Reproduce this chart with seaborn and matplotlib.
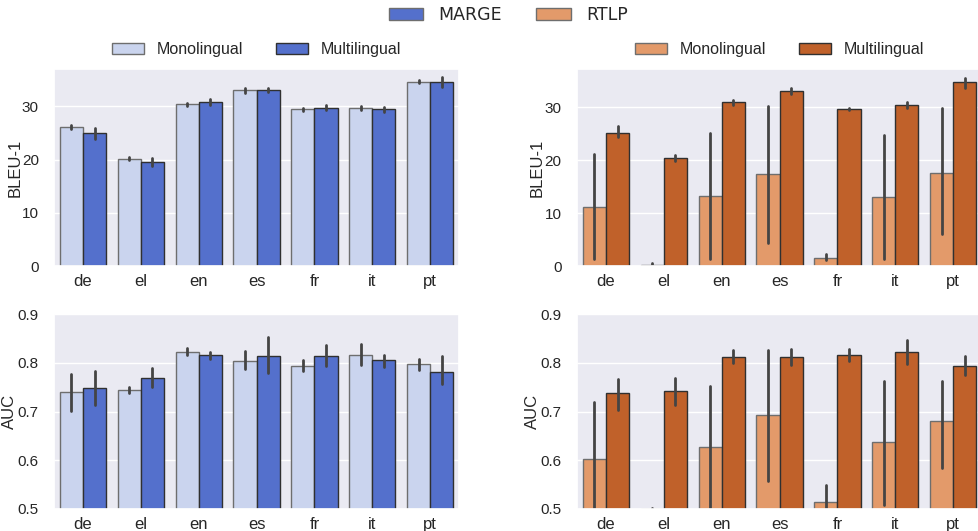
import matplotlib

matplotlib.use("Agg")

import matplotlib.pyplot as plt
import numpy as np
import pandas as pd
import seaborn as sns
from matplotlib.patches import Patch

LANGS = ["de", "el", "en", "es", "fr", "it", "pt"]
SETTINGS = ["Monolingual", "Multilingual"]

# BLEU-1, point value and (low, high) of the interval
MARGE_BLEU_MONO = [26.1, 20.15, 30.4, 33.0, 29.4, 29.75, 34.6]
MARGE_BLEU_MONO_CI = [(25.8, 26.4), (19.85, 20.45), (30.1, 30.7), (32.5, 33.5), (29.1, 29.7), (29.35, 30.15), (34.3, 34.9)]
MARGE_BLEU_MULTI = [24.9, 19.5, 30.8, 33.0, 29.75, 29.45, 34.6]
MARGE_BLEU_MULTI_CI = [(23.9, 25.9), (18.7, 20.3), (30.3, 31.3), (32.6, 33.4), (29.25, 30.25), (28.95, 29.95), (33.7, 35.5)]

RTLP_BLEU_MONO = [11.2, 0.25, 13.2, 17.3, 1.6, 13.0, 17.5]
RTLP_BLEU_MONO_CI = [(1.3, 21.1), (0.0, 0.5), (1.3, 25.2), (4.3, 30.2), (1.1, 2.2), (1.3, 24.7), (6.1, 29.9)]
RTLP_BLEU_MULTI = [25.2, 20.4, 30.9, 33.0, 29.7, 30.4, 34.7]
RTLP_BLEU_MULTI_CI = [(24.3, 26.4), (19.9, 20.9), (30.5, 31.3), (32.4, 33.6), (29.5, 29.9), (29.9, 30.9), (33.6, 35.6)]

# AUC
MARGE_AUC_MONO = [0.740, 0.744, 0.823, 0.803, 0.793, 0.815, 0.797]
MARGE_AUC_MONO_CI = [(0.702, 0.776), (0.737, 0.751), (0.815, 0.830), (0.787, 0.824), (0.784, 0.805), (0.795, 0.839), (0.786, 0.808)]
MARGE_AUC_MULTI = [0.748, 0.769, 0.815, 0.814, 0.814, 0.805, 0.782]
MARGE_AUC_MULTI_CI = [(0.714, 0.784), (0.750, 0.790), (0.808, 0.823), (0.780, 0.852), (0.793, 0.837), (0.791, 0.816), (0.756, 0.813)]

RTLP_AUC_MONO = [0.602, 0.500, 0.627, 0.693, 0.515, 0.637, 0.681]
RTLP_AUC_MONO_CI = [(0.48, 0.720), (0.499, 0.502), (0.503, 0.752), (0.558, 0.827), (0.49, 0.550), (0.509, 0.763), (0.584, 0.763)]
RTLP_AUC_MULTI = [0.737, 0.743, 0.812, 0.812, 0.816, 0.822, 0.793]
RTLP_AUC_MULTI_CI = [(0.703, 0.767), (0.714, 0.769), (0.799, 0.826), (0.796, 0.828), (0.803, 0.829), (0.797, 0.846), (0.774, 0.814)]

MARGE_COLORS = ["#cad4ee", "#5470cc"]
RTLP_COLORS = ["#e39a6a", "#c0612a"]
EDGE_COLORS = ["#6e6e6e", "#303030"]


def long_frame(mono, mono_ci, multi, multi_ci):
    # three rows per bar: low, point, high -> median gives the point, min/max the interval
    rows = []
    for setting, vals, cis in ((SETTINGS[0], mono, mono_ci), (SETTINGS[1], multi, multi_ci)):
        for lang, v, (lo, hi) in zip(LANGS, vals, cis):
            for x in (lo, v, hi):
                rows.append({"lang": lang, "setting": setting, "value": x})
    return pd.DataFrame(rows)


def draw_panel(ax, frame, colors, ylabel, ylim, ticks, label_x, legend):
    sns.barplot(
        data=frame,
        x="lang",
        y="value",
        hue="setting",
        order=LANGS,
        hue_order=SETTINGS,
        palette=colors,
        estimator=np.median,
        errorbar=lambda v: (v.min(), v.max()),
        err_kws={"color": "#444444", "linewidth": 2.0},
        linewidth=1.0,
        saturation=1,
        ax=ax,
    )
    for container, edge in zip(ax.containers, EDGE_COLORS):
        for patch in container:
            patch.set_edgecolor(edge)
    ax.set_ylim(*ylim)
    ax.set_yticks(ticks)
    ax.set_xlabel("")
    ax.set_ylabel(ylabel, fontsize=12)
    # label_x is where the right side of the rotated label sits
    ax.yaxis.set_label_coords(label_x, 0.5)
    ax.tick_params(axis="x", labelsize=12, pad=0)
    ax.tick_params(axis="y", labelsize=11, pad=5)
    if legend:
        leg = ax.legend(
            loc="center",
            bbox_to_anchor=(0.5, 1.10),
            ncol=2,
            frameon=False,
            fontsize=11.5,
            handlelength=2.0,
            handletextpad=0.8,
            columnspacing=2.05,
        )
        for handle, edge in zip(leg.legend_handles, EDGE_COLORS):
            handle.set_edgecolor(edge)
            handle.set_linewidth(1.0)
    else:
        ax.get_legend().remove()


sns.set_theme(style="darkgrid")
plt.rcParams["font.family"] = ["Liberation Sans", "DejaVu Sans"]

fig = plt.figure(figsize=(9.79, 5.31), dpi=100)
ax_tl = fig.add_axes([0.0552, 0.499, 0.4137, 0.371])
ax_tr = fig.add_axes([0.5894, 0.499, 0.4137, 0.371])
ax_bl = fig.add_axes([0.0552, 0.0415, 0.4137, 0.367])
ax_br = fig.add_axes([0.5894, 0.0415, 0.4137, 0.367])

bleu_ticks = [0, 10, 20, 30]
auc_ticks = [0.5, 0.6, 0.7, 0.8, 0.9]

draw_panel(ax_tl, long_frame(MARGE_BLEU_MONO, MARGE_BLEU_MONO_CI, MARGE_BLEU_MULTI, MARGE_BLEU_MULTI_CI),
           MARGE_COLORS, "BLEU-1", (0, 37.0), bleu_ticks, -0.078, True)
draw_panel(ax_tr, long_frame(RTLP_BLEU_MONO, RTLP_BLEU_MONO_CI, RTLP_BLEU_MULTI, RTLP_BLEU_MULTI_CI),
           RTLP_COLORS, "BLEU-1", (0, 37.2), bleu_ticks, -0.080, True)
draw_panel(ax_bl, long_frame(MARGE_AUC_MONO, MARGE_AUC_MONO_CI, MARGE_AUC_MULTI, MARGE_AUC_MULTI_CI),
           MARGE_COLORS, "AUC", (0.5, 0.9), auc_ticks, -0.092, False)
draw_panel(ax_br, long_frame(RTLP_AUC_MONO, RTLP_AUC_MONO_CI, RTLP_AUC_MULTI, RTLP_AUC_MULTI_CI),
           RTLP_COLORS, "AUC", (0.5, 0.9), auc_ticks, -0.092, False)

top_handles = [
    Patch(facecolor=MARGE_COLORS[1], edgecolor="#6e6e6e", label="MARGE"),
    Patch(facecolor=RTLP_COLORS[0], edgecolor="#6e6e6e", label="RTLP"),
]
fig.legend(
    handles=top_handles,
    loc="center",
    bbox_to_anchor=(0.519, 0.972),
    ncol=2,
    frameon=False,
    prop={"family": "DejaVu Sans", "size": 12.5},
    handlelength=2.0,
    handletextpad=0.85,
    columnspacing=2.0,
)

fig.savefig("out.png", dpi=100)
